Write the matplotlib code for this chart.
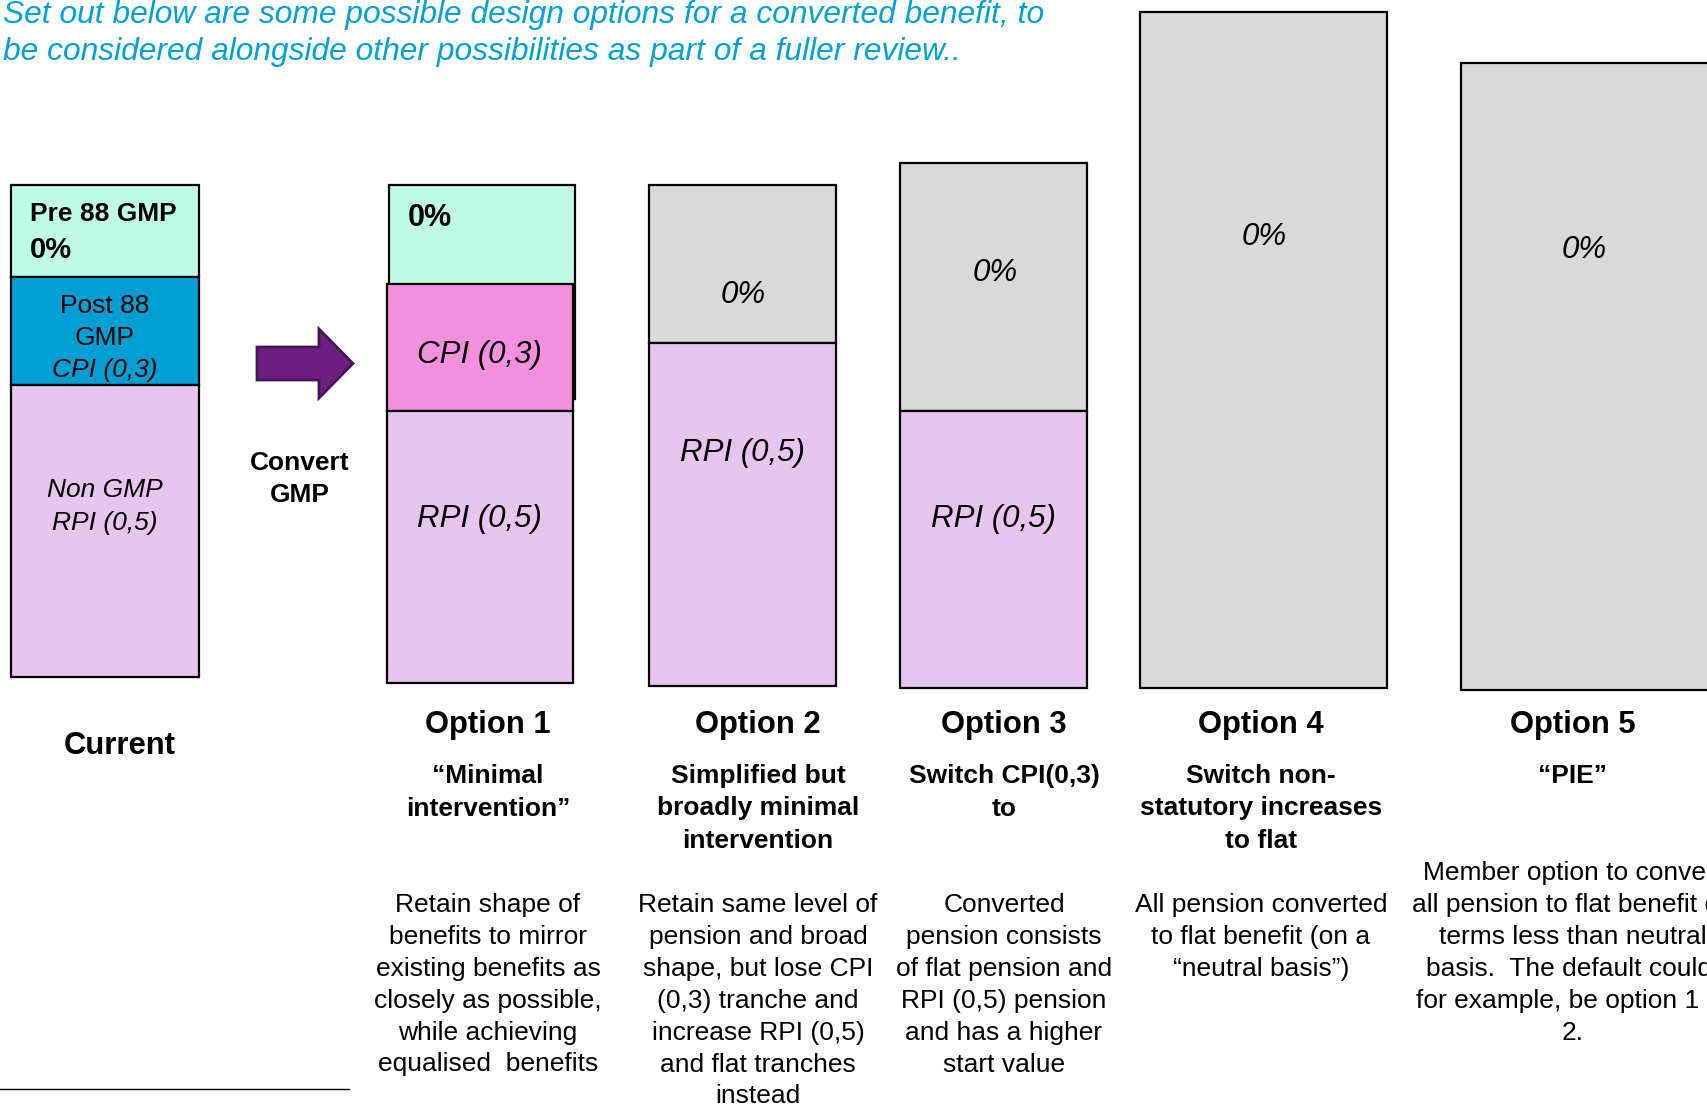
import matplotlib.pyplot as plt
from matplotlib.patches import FancyArrow

plt.rcParams['font.family'] = ['Liberation Sans', 'DejaVu Sans']

# Columns of the slide and the stacked tranches in each (slide pixel units, top -> bottom)
columns = ["Current", "Option 1", "Option 2", "Option 3", "Option 4", "Option 5"]
tranche_col = [0, 0, 0, 1, 1, 1, 2, 2, 3, 3, 4, 5]
tranche_top = [185, 277, 385, 185, 284, 411, 185, 343, 163, 411, 12, 63]
tranche_bottom = [277, 385, 677, 399, 411, 683, 343, 686, 411, 688, 688, 690]
tranche_kind = ["pre88", "post88", "rpi", "pre88", "cpi", "rpi",
                "flat", "rpi", "flat", "rpi", "flat", "flat"]

subtitles = [
    [],
    ["\u201cMinimal", "intervention\u201d"],
    ["Simplified but", "broadly minimal", "intervention"],
    ["Switch CPI(0,3)", "to"],
    ["Switch non-", "statutory increases", "to flat"],
    ["\u201cPIE\u201d"],
]
descriptions = [
    [],
    ["Retain shape of", "benefits to mirror", "existing benefits as",
     "closely as possible,", "while achieving", "equalised  benefits"],
    ["Retain same level of", "pension and broad", "shape, but lose CPI",
     "(0,3) tranche and", "increase RPI (0,5)", "and flat tranches", "instead"],
    ["Converted", "pension consists", "of flat pension and",
     "RPI (0,5) pension", "and has a higher", "start value"],
    ["All pension converted", "to flat benefit (on a", "\u201cneutral basis\u201d)"],
    ["Member option to convert", "all pension to flat benefit on",
     "terms less than neutral", "basis.  The default could,",
     "for example, be option 1 or", "2."],
]
title_lines = [
    "Set out below are some possible design options for a converted benefit, to",
    "be considered alongside other possibilities as part of a fuller review..",
]

# layout
col_left = [11, 387, 649, 900, 1140, 1461]
col_right = [199, 573, 836, 1087, 1387, 1725]
text_x = [120, 488, 758, 1004, 1261, 1573]
desc_top = [0, 902, 902, 902, 902, 870]
colors = {"pre88": "#BFFCE8", "post88": "#009FD3", "rpi": "#E8C5EE",
          "cpi": "#F58FDF", "flat": "#D9D9D9"}
DY = 3  # nudge so text sits on its visual centre

fig = plt.figure(figsize=(17.08, 11.05), dpi=100)
ax = fig.add_axes([0, 0, 1, 1])
ax.set_xlim(0, 1708)
ax.set_ylim(1105, 0)
ax.axis("off")

for c, top, bot, kind in zip(tranche_col, tranche_top, tranche_bottom, tranche_kind):
    left, right = col_left[c], col_right[c]
    if c == 1 and kind == "pre88":
        left, right = left + 2, right + 2
    ax.bar((left + right) / 2, bot - top, bottom=top, width=right - left,
           color=colors[kind], edgecolor="black", linewidth=1.6, zorder=2)


def put_lines(x, y0, lines, step, **kw):
    for i, s in enumerate(lines):
        ax.text(x, y0 + i * step + DY, s, va="center", zorder=5, **kw)


# title
put_lines(3, 12, title_lines, 37, ha="left", fontsize=22.9, style="italic",
          color="#00A1D6")

# labels inside the current column
put_lines(30, 211, ["Pre 88 GMP"], 36, ha="left", fontsize=19, weight="bold")
put_lines(30, 247, ["0%"], 36, ha="left", fontsize=21, weight="bold")
put_lines(105, 303, ["Post 88", "GMP"], 32, ha="center", fontsize=19)
put_lines(105, 367, ["CPI (0,3)"], 32, ha="center", fontsize=19, style="italic")
put_lines(105, 487, ["Non GMP", "RPI (0,5)"], 33, ha="center", fontsize=19, style="italic")

# labels inside the option columns
put_lines(408, 215, ["0%"], 30, ha="left", fontsize=22, weight="bold")
seg_labels = [(479, 352, "CPI (0,3)"), (479, 516, "RPI (0,5)"),
              (743, 292, "0%"), (742, 450, "RPI (0,5)"),
              (995, 270, "0%"), (993, 516, "RPI (0,5)"),
              (1264, 234, "0%"), (1584, 247, "0%")]
for x, y, s in seg_labels:
    put_lines(x, y, [s], 30, ha="center", fontsize=22.5, style="italic")

# conversion arrow
ax.add_patch(FancyArrow(257, 363.5, 96, 0, width=33, head_width=69, head_length=34,
                        length_includes_head=True, facecolor="#6C1F80",
                        edgecolor="#4A1259", linewidth=2, zorder=3))
put_lines(300, 460, ["Convert", "GMP"], 32, ha="center", fontsize=19, weight="bold")

# column headings and notes
put_lines(text_x[0], 743, [columns[0]], 30, ha="center", fontsize=22.3, weight="bold")
for i in range(1, len(columns)):
    put_lines(text_x[i], 722, [columns[i]], 30, ha="center", fontsize=22.3, weight="bold")
    put_lines(text_x[i], 773, subtitles[i], 32.5, ha="center", fontsize=19, weight="bold")
    put_lines(text_x[i], desc_top[i], descriptions[i], 31.9, ha="center", fontsize=19)

ax.plot([0, 349], [1089, 1089], color="black", linewidth=1)

fig.savefig("out.png", dpi=100)
